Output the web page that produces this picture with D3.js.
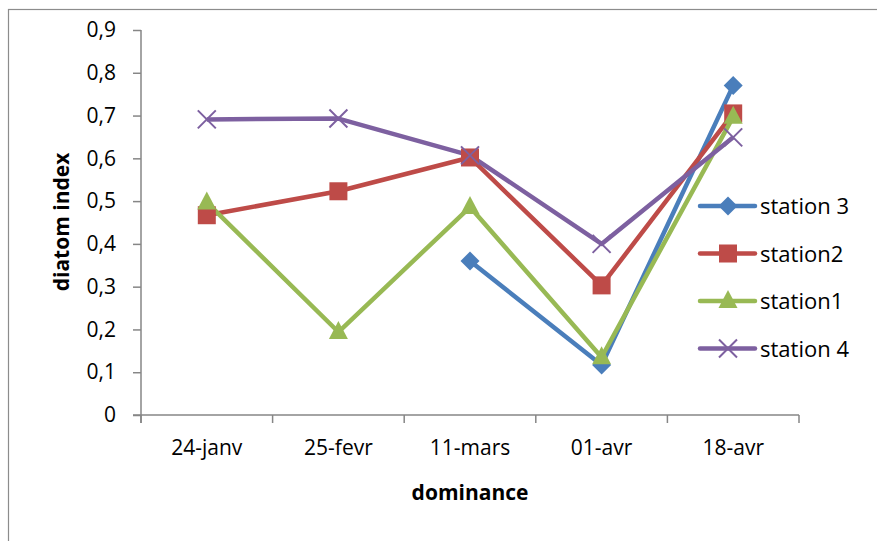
<!DOCTYPE html>
<html>
<head>
<meta charset="utf-8">
<script src="https://cdn.jsdelivr.net/npm/d3@7"></script>
<style>
body { margin: 0; background: #fff; }
text { font-family: "Open Sans", "Lato", sans-serif; }
</style>
</head>
<body>
<div id="chart"></div>
<script>
var width = 877;
var height = 541;

// data
var dates = ["24-janv", "25-fevr", "11-mars", "01-avr", "18-avr"];
var station3 = [null, null, 0.36, 0.117, 0.77];
var station2 = [0.467, 0.523, 0.602, 0.303, 0.705];
var station1 = [0.497, 0.194, 0.486, 0.135, 0.697];
var station4 = [0.691, 0.693, 0.607, 0.40, 0.649];
var yTicks = [0, 0.1, 0.2, 0.3, 0.4, 0.5, 0.6, 0.7, 0.8, 0.9];

var seriesList = [
	{ name: "station 3", values: station3, color: "#4a7ebb", marker: "diamond" },
	{ name: "station2", values: station2, color: "#be4b48", marker: "square" },
	{ name: "station1", values: station1, color: "#98b954", marker: "triangle" },
	{ name: "station 4", values: station4, color: "#7d60a0", marker: "cross" },
];

var svg = d3
	.select("#chart")
	.append("svg")
	.attr("width", width)
	.attr("height", height);

// outer chart frame
svg
	.append("rect")
	.attr("x", 8.5)
	.attr("y", 9.5)
	.attr("width", 900)
	.attr("height", 600)
	.attr("fill", "none")
	.attr("stroke", "#8c8c8c")
	.attr("stroke-width", 1.2);

var margins = { left: 141, top: 30, right: 78, bottom: 126 };
var chartWidth = width - margins.left - margins.right;
var chartHeight = height - margins.top - margins.bottom;

var chartGroup = svg
	.append("g")
	.attr("transform", `translate(${margins.left},${margins.top})`);

var xscale = d3.scaleBand().domain(dates).range([0, chartWidth]);
var yscale = d3.scaleLinear().domain([0, 0.9]).range([chartHeight, 0]);

var fmt = (d) => (d === 0 ? "0" : d3.format(".1f")(d).replace(".", ","));

var yaxis = chartGroup
	.append("g")
	.call(d3.axisLeft(yscale).tickValues(yTicks).tickFormat(fmt).tickSize(8).tickPadding(17));

var xaxis = chartGroup
	.append("g")
	.attr("transform", `translate(0,${chartHeight})`)
	.call(d3.axisBottom(xscale).tickSize(0).tickPadding(25));

// category boundary ticks
xaxis
	.selectAll("line.bound")
	.data(d3.range(dates.length + 1))
	.enter()
	.append("line")
	.attr("class", "bound")
	.attr("x1", (i) => i * xscale.step())
	.attr("x2", (i) => i * xscale.step())
	.attr("y1", 0)
	.attr("y2", 8);

[xaxis, yaxis].forEach((ax) => {
	ax.selectAll("path.domain").attr("stroke", "#868686").attr("stroke-width", 1.5);
	ax.selectAll("line").attr("stroke", "#868686").attr("stroke-width", 1.5);
	ax.selectAll("text")
		.attr("font-family", "Open Sans, sans-serif")
		.attr("font-size", "21px")
		.attr("fill", "#000");
});
yaxis.selectAll("path.domain").attr("d", `M0,${chartHeight + 8}V0`);
xaxis.selectAll("path.domain").attr("d", `M-8,0H${chartWidth}`);

var cx = (i) => xscale(dates[i]) + xscale.bandwidth() / 2;

function drawMarker(g, type, color) {
	if (type === "diamond") {
		g.append("path").attr("d", "M0,-9.5L9.5,0L0,9.5L-9.5,0Z").attr("fill", color);
	} else if (type === "square") {
		g.append("rect").attr("x", -9).attr("y", -9).attr("width", 18).attr("height", 18).attr("fill", color);
	} else if (type === "triangle") {
		g.append("path").attr("d", "M0,-11L9.5,7L-9.5,7Z").attr("fill", color);
	} else {
		g.append("path")
			.attr("d", "M-9,-9L9,9M-9,9L9,-9")
			.attr("stroke", color)
			.attr("stroke-width", 2)
			.attr("fill", "none");
	}
}

var line = d3
	.line()
	.defined((d) => d != null)
	.x((d, i) => cx(i))
	.y((d) => yscale(d));

seriesList.forEach((s) => {
	chartGroup
		.append("path")
		.datum(s.values)
		.attr("d", line)
		.attr("fill", "none")
		.attr("stroke", s.color)
		.attr("stroke-width", 4.5)
		.attr("stroke-linejoin", "round");
});

seriesList.forEach((s) => {
	s.values.forEach((v, i) => {
		if (v == null) return;
		var g = chartGroup.append("g").attr("transform", `translate(${cx(i)},${yscale(v)})`);
		drawMarker(g, s.marker, s.color);
	});
});

// axis titles
svg
	.append("text")
	.text("dominance")
	.attr("x", margins.left + chartWidth / 2)
	.attr("y", 500)
	.attr("text-anchor", "middle")
	.attr("font-size", "21px")
	.attr("font-weight", "bold");

svg
	.append("text")
	.text("diatom index")
	.attr("transform", "translate(69,222) rotate(-90)")
	.attr("text-anchor", "middle")
	.attr("font-size", "21px")
	.attr("font-weight", "bold");

// legend
var legend = svg.append("g").attr("transform", "translate(700,206)");
seriesList.forEach((s, i) => {
	var row = legend.append("g").attr("transform", `translate(0,${i * 47.5})`);
	row
		.append("line")
		.attr("x1", 0)
		.attr("x2", 55)
		.attr("stroke", s.color)
		.attr("stroke-width", 4.5)
		.attr("stroke-linecap", "round");
	drawMarker(row.append("g").attr("transform", "translate(28,0)"), s.marker, s.color);
	row
		.append("text")
		.text(s.name)
		.attr("x", 60)
		.attr("y", 8)
		.attr("font-size", "22px");
});
</script>
</body>
</html>
